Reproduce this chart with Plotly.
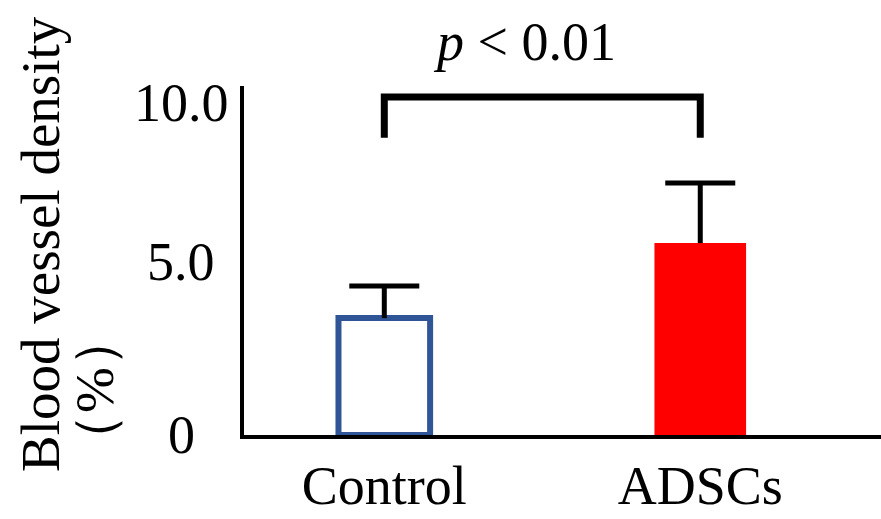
import plotly.graph_objects as go

# ---- data ----
categories = ["Control", "ADSCs"]
means = [3.52, 5.78]
sd_upper = [0.97, 1.81]
bar_fill = ["#FFFFFF", "#FF0000"]
bar_edge = ["#2F5597", "#FF0000"]
ytick_vals = [0, 5, 10]
ytick_text = ["0", "5.0", "10.0"]
bracket_low = 8.95
bracket_high = 10.18
p_text = "<i>p</i> < 0.01"
ytitle_line1 = "Blood vessel density"
ytitle_line2 = "（%）"

W, H = 881, 519
ML, MR, MT, MB = 244, 0, 86, 84
FONT = "Liberation Serif"
FS = 54

plot_w = W - ML - MR
plot_h = H - MT - MB


def px_to_paper_x(px):
    return (px - ML) / plot_w


def px_to_paper_y(py):
    return (H - MB - py) / plot_h


tops = [m + s for m, s in zip(means, sd_upper)]

fig = go.Figure()
fig.add_trace(go.Bar(
    x=categories, y=means, width=0.29,
    marker=dict(color=bar_fill, line=dict(color=bar_edge, width=[6, 0])),
    error_y=dict(type="data", symmetric=False, array=sd_upper, arrayminus=[0, 0],
                 color="black", thickness=5, width=0),
    showlegend=False,
))
# error bar caps
fig.add_trace(go.Scatter(
    x=categories, y=tops, mode="markers",
    marker=dict(symbol="line-ew", size=50, line=dict(color="black", width=5)),
    showlegend=False, cliponaxis=False,
))
# significance bracket
fig.add_trace(go.Scatter(
    x=[categories[0], categories[0], categories[1], categories[1]],
    y=[bracket_low, bracket_high, bracket_high, bracket_low],
    mode="lines", line=dict(color="black", width=7),
    showlegend=False, cliponaxis=False,
))

annotations = []
label_shift = {0: 0, 5: 7, 10: 0}
for v, t in zip(ytick_vals, ytick_text):
    annotations.append(dict(x=px_to_paper_x(181), xref="paper", y=v, yref="y",
                            text=t, showarrow=False, xanchor="center", yanchor="middle",
                            yshift=label_shift.get(v, 0),
                            font=dict(family=FONT, size=FS, color="black")))
annotations.append(dict(x=0.444, xref="x", y=px_to_paper_y(42), yref="paper",
                        text=p_text, showarrow=False, xanchor="center", yanchor="middle",
                        font=dict(family=FONT, size=FS, color="black")))
annotations.append(dict(x=px_to_paper_x(40), xref="paper", y=px_to_paper_y(244), yref="paper",
                        text=ytitle_line1, textangle=-90, showarrow=False,
                        xanchor="center", yanchor="middle",
                        font=dict(family=FONT, size=55, color="black")))
annotations.append(dict(x=px_to_paper_x(94), xref="paper", y=px_to_paper_y(390), yref="paper",
                        text=ytitle_line2, textangle=-90, showarrow=False,
                        xanchor="center", yanchor="middle",
                        font=dict(family=FONT, size=55, color="black")))

fig.update_layout(
    width=W, height=H,
    margin=dict(l=ML, r=MR, t=MT, b=MB, pad=0),
    paper_bgcolor="white", plot_bgcolor="white",
    font=dict(family=FONT, size=FS, color="black"),
    annotations=annotations,
    xaxis=dict(type="category", range=[-0.444, 1.572], showline=True, linecolor="black",
               linewidth=4, showgrid=False, zeroline=False, ticks="",
               tickfont=dict(family=FONT, size=FS, color="black")),
    yaxis=dict(range=[0, 10.51], showline=True, linecolor="black", linewidth=4,
               showgrid=False, zeroline=False, ticks="", showticklabels=False,
               tickvals=ytick_vals),
)

fig.write_html("out.html", config={"displayModeBar": False},
               post_script="document.body.style.margin='0';")
